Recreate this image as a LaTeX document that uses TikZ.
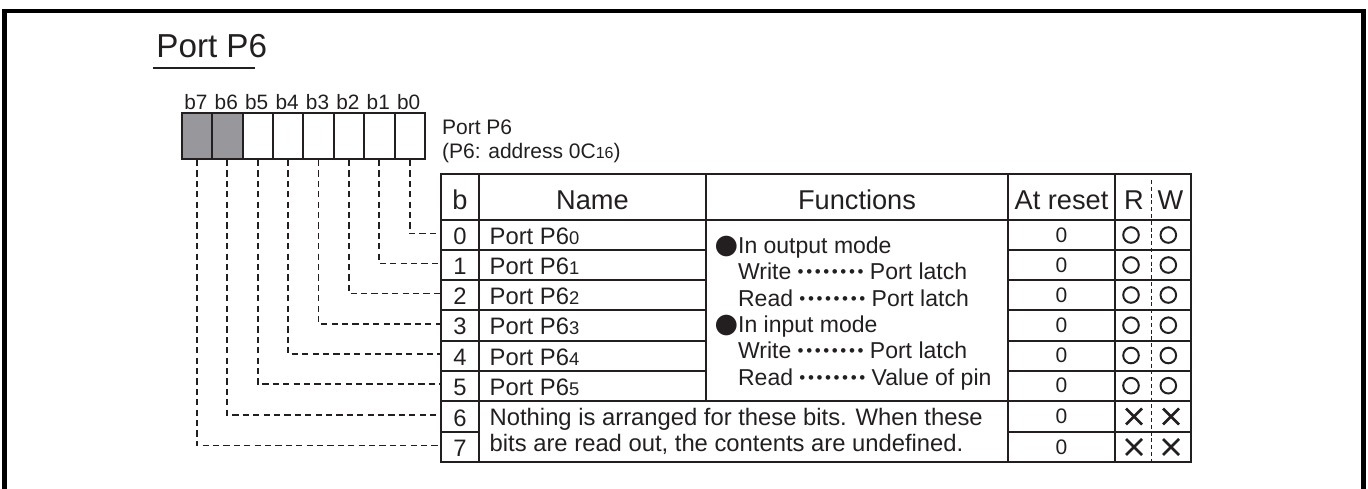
\documentclass[tikz,border=0pt]{standalone}
\usepackage{fontspec}
\setmainfont{Liberation Sans}
\newfontfamily\symfont{DejaVu Sans}
\usetikzlibrary{calc}
\definecolor{cink}{HTML}{231F20}
\definecolor{cgray}{HTML}{98989C}
% small digits that sit on the base line
\newcommand{\lowdig}[2]{{\fontsize{#1}{#1}\selectfont #2}}
\newcommand{\onedot}{•\kern1.3pt}
\newcommand{\leaderdots}{{\fontsize{8.5}{8.5}\selectfont\raisebox{1pt}{\onedot\onedot\onedot\onedot\onedot\onedot\onedot•}}}

\begin{document}
\begin{tikzpicture}[x=0.5pt, y=-0.5pt,
  every node/.style={text=cink, inner sep=0pt},
  bitbox/.style={draw=cink, line width=1pt, minimum width=15.2pt, minimum height=23pt, anchor=north west},
  conn/.style={cink, line width=0.85pt, dash pattern=on 3.1pt off 2.1pt},
  grid/.style={cink, line width=1pt},
  head/.style={font=\fontsize{13.6}{13.6}\selectfont, anchor=base},
  cell/.style={font=\fontsize{11.9}{11.9}\selectfont, anchor=base},
  fun/.style={font=\fontsize{11.5}{11.5}\selectfont, anchor=base west},
  zero/.style={font=\fontsize{10.5}{10.5}\selectfont, anchor=center}]
\clip (0,0) rectangle (1368,488);
% frame, open at the foot
\draw[black, line width=2.2pt] (4.5,520) |- (1363.5,11) -- (1363.5,520);
% title
\node[font=\fontsize{16.6}{16.6}\selectfont, anchor=base west] (title) at (156,57) {Port P6};
\draw[cink, line width=0.7pt] (153,68) -- (255,68);
% the register, bit 7 at the left
\foreach \i in {0,...,7} {
  \pgfmathsetmacro{\bx}{180.7+(7-\i)*30.4}
  \ifnum\i>5
    \node[bitbox, fill=cgray] (bit\i) at (\bx,112) {};
  \else
    \node[bitbox, fill=white] (bit\i) at (\bx,112) {};
  \fi
  \node[font=\fontsize{10.4}{10.4}\selectfont, anchor=base] (lb\i) at (\bx+15.2,109.3) {b\i};
}
\node[font=\fontsize{10.5}{10.5}\selectfont, anchor=base west] (regname) at (441.7,134) {Port P6};
\node[font=\fontsize{10.5}{10.5}\selectfont, anchor=base west] (regaddr) at (441.7,158)
  {(P6: address 0C\lowdig{8}{16})};
%% ------------------------------------------------------------------ table
\draw[grid] (440.7,174) rectangle (1190.7,462);
\draw[grid] (479,174) -- (479,462);
\draw[grid] (706,174) -- (706,401);
\draw[grid] (1008.3,174) -- (1008.3,462);
\draw[grid] (1115,174) -- (1115,462);
\draw[cink, line width=0.7pt, dash pattern=on 2pt off 1.4pt] (1151.7,180) -- (1151.7,462);
\draw[grid] (440.7,220) -- (1190.7,220);
\draw[grid] (440.7,401) -- (1190.7,401);
\foreach \y in {250,280,310,340.5,370.5} {
  \draw[grid] (440.7,\y) -- (706,\y);
  \draw[grid] (1008.3,\y) -- (1190.7,\y);
}
\draw[grid] (440.7,432) -- (479,432);
\draw[grid] (1008.3,432) -- (1190.7,432);
% header
\node[head] (hb) at (460,209) {b};
\node[head] (hname) at (592.5,209) {Name};
\node[head] (hfun) at (857,209) {Functions};
\node[head] (hreset) at (1061.5,209) {At reset};
\node[head] (hr) at (1134,209) {R};
\node[head] (hw) at (1170.5,209) {W};
% rows: number, connector, reset value, R and W
\foreach \i/\yc in {0/235,1/265,2/295,3/325.2,4/355.5,5/385.7,6/416.5,7/447} {
  \node[cell] (n\i) at (460,\yc+9.5) {\i};
  \coordinate (e\i) at (440.7,\yc-1.5);
  \draw[conn] (bit\i.south) |- (e\i);
  \node[zero] (z\i) at (1061.5,\yc) {0};
  \ifnum\i<6
    \node[cell, anchor=base west] (p\i) at (489.3,\yc+9.5) {Port P6\lowdig{9.2}{\i}};
    \draw[cink, line width=1pt] (1131,\yc) circle[radius=3.9pt];
    \draw[cink, line width=1pt] (1168.3,\yc) circle[radius=3.9pt];
  \else
    \draw[cink, line width=1.3pt] (1126,\yc-8) -- (1142,\yc+8) (1126,\yc+8) -- (1142,\yc-8);
    \draw[cink, line width=1.3pt] (1163,\yc-8) -- (1179,\yc+8) (1163,\yc+8) -- (1179,\yc-8);
  \fi
}
% functions of bits 0 to 5
\node[fun] (f1) at (737.7,253.3) {\llap{\symfont\fontsize{13.5}{13.5}\selectfont ●}In output mode};
\node[fun] (f2) at (737.7,279.7) {Write \leaderdots\ Port latch};
\node[fun] (f3) at (737.7,306) {Read \leaderdots\ Port latch};
\node[fun] (f4) at (737.7,332.4) {\llap{\symfont\fontsize{13.5}{13.5}\selectfont ●}In input mode};
\node[fun] (f5) at (737.7,358.7) {Write \leaderdots\ Port latch};
\node[fun] (f6) at (737.7,385) {Read \leaderdots\ Value of pin};
% bits 6 and 7
\node[cell, anchor=base west] (none1) at (489.3,425) {Nothing is arranged for these bits. When these};
\node[cell, anchor=base west] (none2) at (489.3,451.7) {bits are read out, the contents are undefined.};
\end{tikzpicture}
\end{document}
